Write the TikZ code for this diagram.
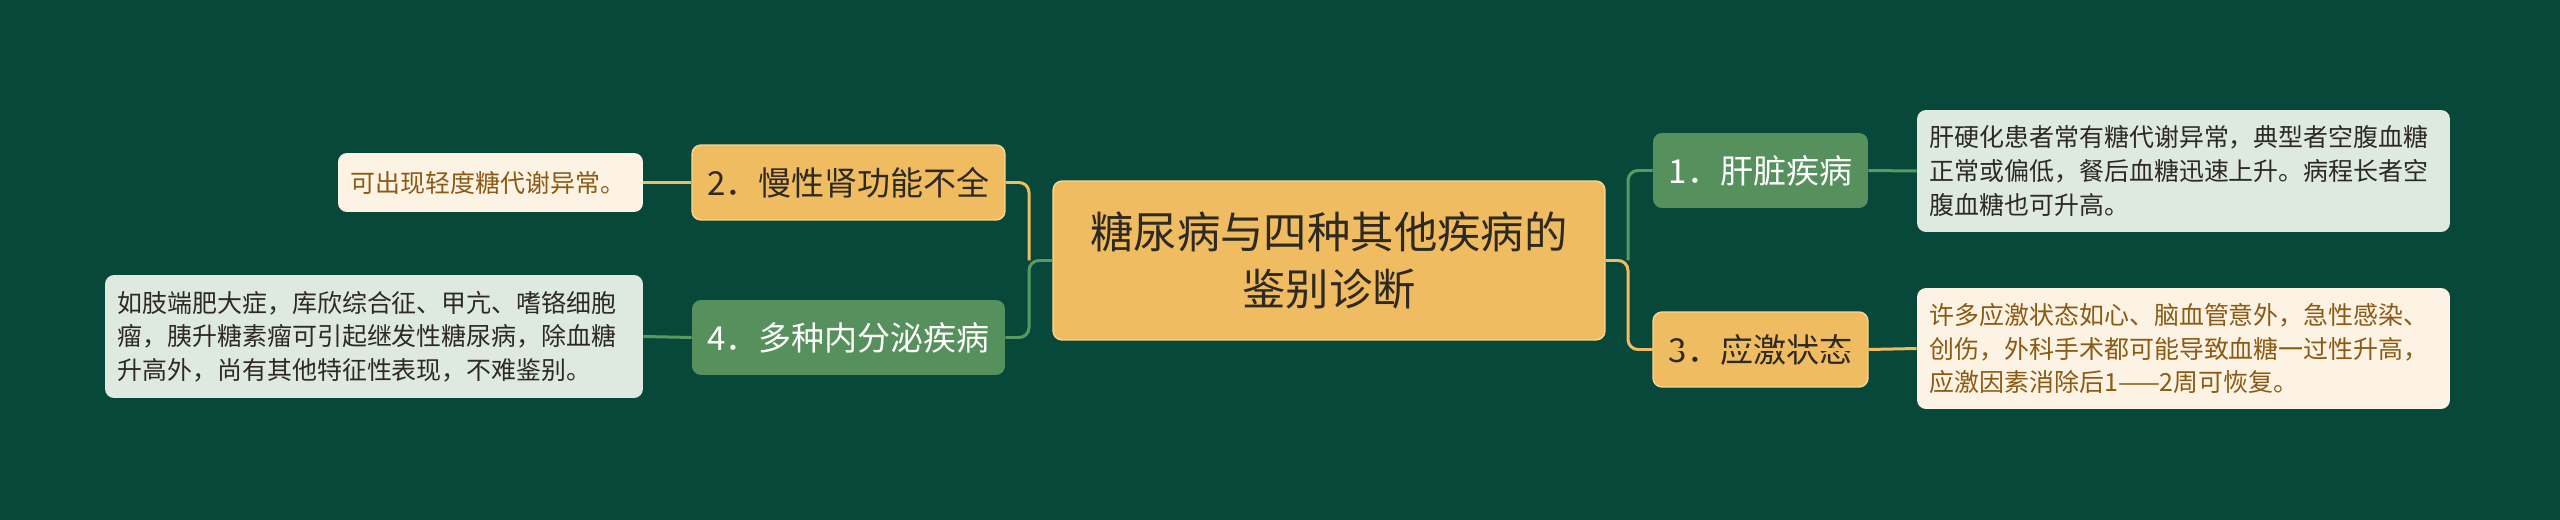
\documentclass[tikz,border=0pt]{standalone}
\usepackage{fontspec}
\setmainfont{Noto Sans CJK SC}
\usetikzlibrary{positioning}
\definecolor{bgGreen}{HTML}{08483A}
\definecolor{gold}{HTML}{F0BC62}
\definecolor{goldEdge}{HTML}{F8D690}
\definecolor{leafGreen}{HTML}{56905C}
\definecolor{paleGreen}{HTML}{DEEAE0}
\definecolor{cream}{HTML}{FDF3E4}
\definecolor{brownText}{HTML}{8B5A14}
\definecolor{darkText}{HTML}{2E2A22}
\definecolor{lineGreen}{HTML}{5A9A62}

\begin{document}
\begin{tikzpicture}[x=0.02cm,y=-0.02cm]
	\tikzstyle{every node}=[inner sep=0pt, rounded corners=0.18cm]
	\tikzstyle{topic}=[fill=gold, draw=goldEdge, line width=0.8pt, text=darkText, align=center,
		font=\fontsize{24.7pt}{31.9pt}\selectfont]
	\tikzstyle{goldbox}=[fill=gold, draw=goldEdge, line width=0.8pt, text=darkText,
		minimum height=1.5cm, font=\fontsize{18.8pt}{22pt}\selectfont]
	\tikzstyle{greenbox}=[fill=leafGreen, text=white,
		minimum height=1.5cm, font=\fontsize{18.8pt}{22pt}\selectfont]
	\tikzstyle{creamleaf}=[fill=cream, text=brownText, align=left, inner xsep=0.25cm,
		font=\fontsize{14.2pt}{19.1pt}\selectfont]
	\tikzstyle{paleleaf}=[fill=paleGreen, text=darkText, align=left, inner xsep=0.25cm,
		font=\fontsize{14.2pt}{19.1pt}\selectfont]
	\tikzstyle{goldline}=[draw=gold, line width=1.7pt, rounded corners=0.2cm]
	\tikzstyle{greenline}=[draw=lineGreen, line width=1.7pt, rounded corners=0.2cm]

	\fill [bgGreen] (0,0) rectangle (2560,520);
	\useasboundingbox (0,0) rectangle (2560,520);

	% centre topic
	\node [topic, minimum width=11.04cm, minimum height=3.18cm] (title) at (1329,260.5)
		{糖尿病与四种其他疾病的\\鉴别诊断};

	% main branches
	\node [greenbox, minimum width=4.3cm] (liver) at (1760.5,170.5) {1．肝脏疾病};
	\node [goldbox, minimum width=6.26cm] (kidney) at (848.5,182.5) {2．慢性肾功能不全};
	\node [goldbox, minimum width=4.3cm] (stress) at (1760.5,349.5) {3．应激状态};
	\node [greenbox, minimum width=6.26cm] (endo) at (848.5,337.5) {4．多种内分泌疾病};

	% leaves
	\node [paleleaf, text width=10.16cm, minimum height=2.44cm] (liverNote) at (2183.5,171)
		{肝硬化患者常有糖代谢异常，典型者空腹血糖\\正常或偏低，餐后血糖迅速上升。病程长者空\\腹血糖也可升高。};
	\node [creamleaf, text width=5.6cm, minimum height=1.18cm] (kidneyNote) at (490.5,182.5)
		{可出现轻度糖代谢异常。};
	\node [creamleaf, text width=10.16cm, minimum height=2.42cm] (stressNote) at (2183.5,348.5)
		{许多应激状态如心、脑血管意外，急性感染、\\创伤，外科手术都可能导致血糖一过性升高，\\应激因素消除后1——2周可恢复。};
	\node [paleleaf, text width=10.26cm, minimum height=2.46cm] (endoNote) at (374,336.5)
		{如肢端肥大症，库欣综合征、甲亢、嗜铬细胞\\瘤，胰升糖素瘤可引起继发性糖尿病，除血糖\\升高外，尚有其他特征性表现，不难鉴别。};

	% connectors
	\coordinate (leftFork) at (1029,260.5);
	\coordinate (rightFork) at (1628,260.5);
	\draw [greenline] (title.west) -- (leftFork) |- (endo.east);
	\draw [goldline] (leftFork) |- (kidney.east);
	\draw [goldline] (title.east) -- (rightFork) |- (stress.east);
	\draw [greenline] (rightFork) |- (liver.west);
	\draw [goldline] (kidney.west) -- (kidneyNote.east);
	\draw [greenline] (endo.west) -- (endoNote.east);
	\draw [greenline] (liver.east) -- (liverNote.west);
	\draw [goldline] (stress.east) -- (stressNote.west);
\end{tikzpicture}
\end{document}
